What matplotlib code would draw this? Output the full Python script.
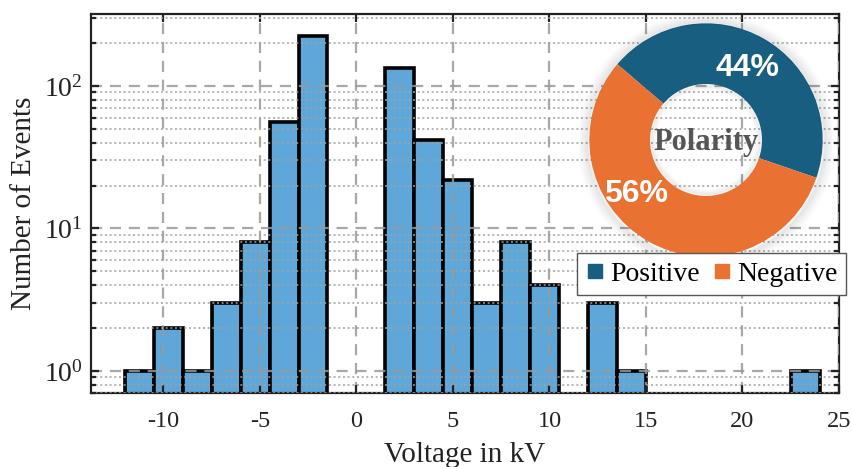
import matplotlib
matplotlib.use('Agg')
import matplotlib.pyplot as plt
import numpy as np
from matplotlib.lines import Line2D
from matplotlib.patches import Circle

# ---- data ----
bin_left = [-12, -10.5, -9, -7.5, -6, -4.5, -3, -1.5, 0, 1.5, 3, 4.5, 6, 7.5,
            9, 10.5, 12, 13.5, 15, 16.5, 18, 19.5, 21, 22.5]
counts = [1, 2, 1, 3, 8, 56, 223, 0, 0, 133, 42, 22, 3, 8,
          4, 0, 3, 1, 0, 0, 0, 0, 0, 1]
bin_width = 1.5
x_ticks = [-10, -5, 0, 5, 10, 15, 20, 25]
polarity_labels = ['Positive', 'Negative']
polarity_share = [44, 56]

bar_color = '#60A7D9'
pie_colors = ['#175E80', '#E97232']

plt.rcParams['font.family'] = ['Liberation Serif', 'DejaVu Serif']
plt.rcParams['mathtext.fontset'] = 'custom'
plt.rcParams['mathtext.rm'] = 'Liberation Serif'
plt.rcParams['mathtext.it'] = 'Liberation Serif:italic'
plt.rcParams['axes.unicode_minus'] = False

fig = plt.figure(figsize=(8.53, 4.67), dpi=100)
ax = fig.add_axes([0.1067, 0.1585, 0.8769, 0.8115])

xs = [b for b, c in zip(bin_left, counts) if c > 0]
hs = [c for c in counts if c > 0]
ax.bar(xs, hs, width=bin_width, align='edge', color=bar_color,
       edgecolor='black', linewidth=2.6, zorder=1)

ax.set_yscale('log')
ax.set_xlim(-13.75, 25)
ax.set_ylim(0.7, 320)
ax.set_xticks(x_ticks)
ax.set_xticklabels([str(t) for t in x_ticks])
ax.set_axisbelow(False)

ax.grid(True, which='major', axis='both', color='#999999', linestyle=(0, (5, 3.5)),
        linewidth=1.6, alpha=0.85)
ax.grid(True, which='minor', axis='y', color='#a0a0a0', linestyle=(0, (1, 1.4)),
        linewidth=1.4, alpha=0.8)

for s in ax.spines.values():
    s.set_linewidth(1.6)
    s.set_color('#222222')
ax.tick_params(which='both', direction='in', top=True, right=True, width=1.6,
               color='#222222', labelcolor='#222222')
ax.tick_params(axis='x', labelsize=17.5)
ax.tick_params(axis='y', labelsize=20)
ax.tick_params(which='major', length=6)
ax.tick_params(which='minor', length=3.5)
ax.tick_params(axis='x', which='minor', top=False, bottom=False)
ax.tick_params(axis='x', pad=13)
ax.tick_params(axis='y', pad=6)

ax.set_xlabel('Voltage in kV', fontsize=21, labelpad=7, color='#222222')
ax.set_ylabel('Number of Events', fontsize=21, labelpad=5, color='#222222')

# ---- donut inset ----
cx, cy, r = 706 / 853, 1 - 140 / 467, 126 / 853
pax = fig.add_axes([cx - r, cy - r * 853 / 467, 2 * r, 2 * r * 853 / 467])
pax.set_aspect('equal')
pax.axis('off')

wedges, _ = pax.pie(polarity_share, colors=pie_colors, startangle=139.5,
                    counterclock=False, radius=1.0,
                    wedgeprops=dict(width=0.52, linewidth=0))
# soft shadow
for k in range(8):
    rr = 1.0 + 0.012 * (k + 1)
    pax.add_patch(Circle((0, -0.01), rr, facecolor='none', edgecolor='#000000',
                         linewidth=2.2, alpha=0.05 * (1 - k / 8)))
for k in range(5):
    rr = 0.48 - 0.01 * (k + 1)
    pax.add_patch(Circle((0, 0), rr, facecolor='none', edgecolor='#000000',
                         linewidth=2.0, alpha=0.04 * (1 - k / 5)))
pax.set_xlim(-1.08, 1.08)
pax.set_ylim(-1.08, 1.08)

pax.text(0.36, 0.62, f'{polarity_share[0]}%', color='white', fontsize=23,
         fontweight='bold', family='Liberation Sans', ha='center', va='center')
pax.text(-0.60, -0.46, f'{polarity_share[1]}%', color='white', fontsize=23,
         fontweight='bold', family='Liberation Sans', ha='center', va='center')
pax.text(0.0, -0.02, 'Polarity', color='#555555', fontsize=22, fontweight='bold',
         ha='center', va='center')

handles = [Line2D([], [], marker='s', linestyle='none', markersize=10,
                  markerfacecolor=c, markeredgecolor=c) for c in pie_colors]
leg = fig.legend(handles, polarity_labels, loc='upper left',
                 bbox_to_anchor=(0.6764, 0.458), ncol=2, fontsize=20,
                 frameon=True, fancybox=False, framealpha=1, edgecolor='#555555',
                 handlelength=0.7, handletextpad=0.2, columnspacing=0.45,
                 borderpad=0.3, borderaxespad=0)
leg.get_frame().set_linewidth(1.0)

fig.savefig('out.png', dpi=100)
